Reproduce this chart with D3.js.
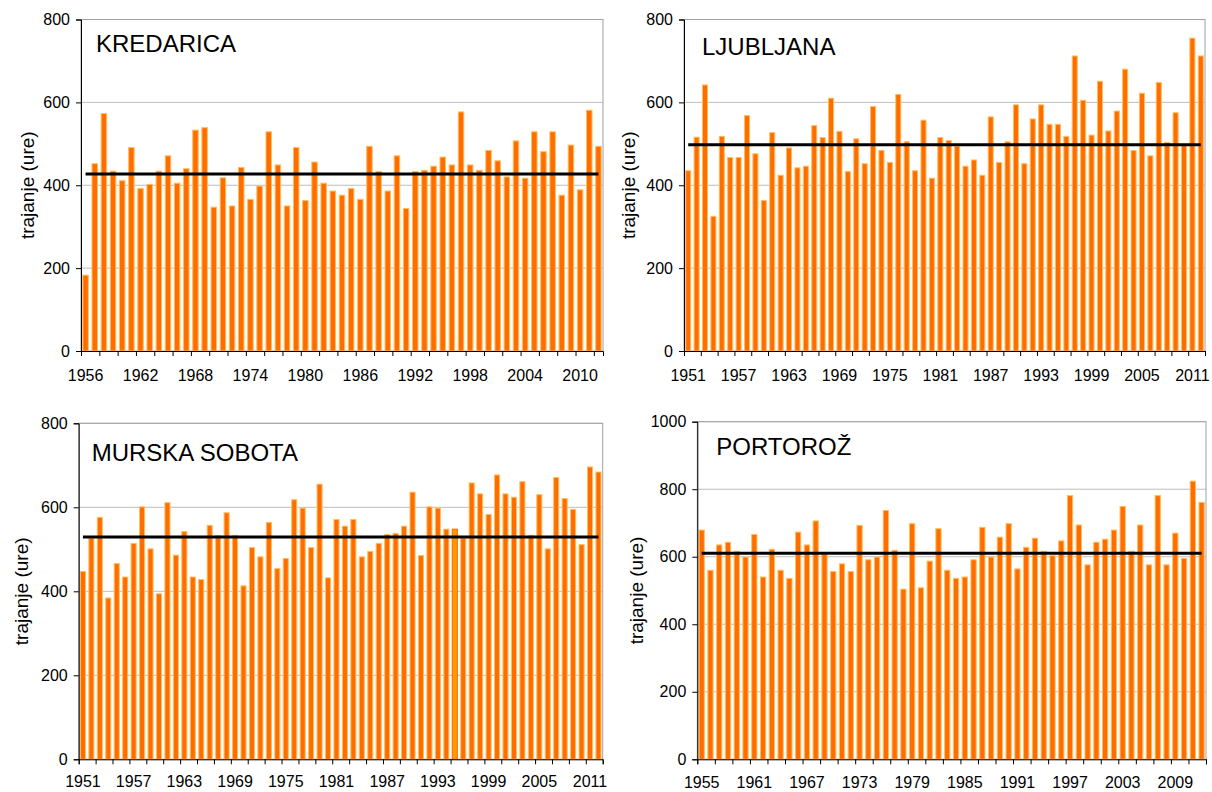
<!DOCTYPE html>
<html>
<head>
<meta charset="utf-8">
<script src="https://cdn.jsdelivr.net/npm/d3@7"></script>
<style>
  html, body { margin: 0; padding: 0; background: #ffffff; }
  svg { display: block; }
  text { font-family: "Liberation Sans", Arial, sans-serif; fill: #000; }
</style>
</head>
<body>
<svg id="chart" width="1212" height="792"></svg>
<script>
// ---------------- DATA ----------------
const stationNames = ["KREDARICA", "LJUBLJANA", "MURSKA SOBOTA", "PORTOROŽ"];
const startYears = [1956, 1951, 1951, 1955];
const endYears = [2012, 2012, 2012, 2012];
const yMaxValues = [800, 800, 800, 1000];
const meanValues = [427, 498, 529, 610];
const highlightYears = [null, null, 1995, null];
const axisTitle = "trajanje (ure)";

const kredaricaValues = [
  183, 452, 573, 434, 411, 491, 392, 402, 434, 471,
  405, 440, 533, 539, 347, 418, 350, 443, 366, 398,
  529, 449, 350, 491, 363, 456, 405, 386, 376, 392,
  366, 494, 433, 386, 471, 344, 433, 436, 446, 468,
  449, 577, 449, 436, 484, 459, 420, 507, 417, 529,
  481, 529, 376, 497, 389, 581, 494
];
const ljubljanaValues = [
  435, 516, 642, 325, 518, 467, 467, 568, 476, 363,
  527, 424, 490, 442, 446, 544, 515, 610, 530, 433,
  512, 452, 590, 484, 455, 619, 505, 435, 557, 417,
  515, 508, 494, 446, 461, 424, 565, 455, 505, 594,
  452, 560, 594, 547, 547, 518, 712, 605, 521, 651,
  531, 579, 680, 484, 622, 471, 648, 503, 575, 497,
  755, 712
];
const murskaSobotaValues = [
  447, 526, 576, 384, 466, 434, 514, 601, 501, 394,
  611, 486, 542, 434, 428, 557, 533, 587, 533, 413,
  504, 482, 564, 454, 478, 618, 598, 504, 655, 432,
  571, 555, 571, 482, 495, 514, 535, 538, 555, 636,
  485, 601, 598, 548, 548, 526, 658, 632, 583, 677,
  632, 624, 661, 533, 630, 501, 671, 621, 595, 511,
  696, 684
];
const portorozValues = [
  679, 560, 635, 643, 616, 599, 666, 540, 622, 560,
  536, 673, 635, 706, 607, 556, 579, 556, 693, 591,
  599, 737, 619, 504, 698, 508, 587, 683, 560, 536,
  540, 591, 687, 599, 658, 698, 564, 628, 655, 616,
  603, 647, 781, 694, 576, 643, 652, 679, 749, 616,
  694, 576, 781, 576, 670, 595, 824, 761
];
const seriesValues = [kredaricaValues, ljubljanaValues, murskaSobotaValues, portorozValues];

// ---------------- LAYOUT ----------------
const panels = [
  { x0: 81,    x1: 603,  y0: 19.5,  y1: 351,   tdx: 15, tdy: 32, atx: 54, lpad: 19 },
  { x0: 684,   x1: 1205, y0: 19.5,  y1: 351,   tdx: 18, tdy: 35, atx: 56, lpad: 19 },
  { x0: 78.7,  x1: 602.7,y0: 423.3, y1: 759.3, tdx: 13, tdy: 38, atx: 57, lpad: 16 },
  { x0: 697.3, x1: 1206, y0: 421.7, y1: 759.3, tdx: 19, tdy: 33, atx: 61, lpad: 17 }
];

const svg = d3.select("#chart");

panels.forEach((p, k) => {
  const values = seriesValues[k];
  const years = d3.range(startYears[k], endYears[k] + 1);
  const n = years.length;
  const g = svg.append("g");

  const x = d3.scaleBand().domain(years).range([p.x0, p.x1])
    .paddingInner(0.4).paddingOuter(0.2);
  const xi = d3.scaleLinear().domain([0, n]).range([p.x0, p.x1]);
  const y = d3.scaleLinear().domain([0, yMaxValues[k]]).range([p.y1, p.y0]);
  const yTicks = d3.range(0, yMaxValues[k] + 1, 200);

  // gridlines
  g.append("g").selectAll("line").data(yTicks.filter(t => t > 0)).join("line")
    .attr("x1", p.x0).attr("x2", p.x1)
    .attr("y1", d => y(d)).attr("y2", d => y(d))
    .attr("stroke", "#BDBDBD").attr("stroke-width", 1);

  // plot border (top & right grey)
  g.append("rect")
    .attr("x", p.x0).attr("y", p.y0)
    .attr("width", p.x1 - p.x0).attr("height", p.y1 - p.y0)
    .attr("fill", "none").attr("stroke", "#A0A0A0").attr("stroke-width", 1);

  // bars
  const data = years.map((yr, i) => ({ yr, v: values[i] }));
  g.append("g").selectAll("rect").data(data).join("rect")
    .attr("x", d => x(d.yr))
    .attr("width", x.bandwidth())
    .attr("y", d => y(d.v))
    .attr("height", d => y(0) - y(d.v))
    .attr("fill", d => d.yr === highlightYears[k] ? "#FF9A00" : "#FF6D00")
    .attr("stroke", d => d.yr === highlightYears[k] ? "#FF6600" : "#FFBE5C")
    .attr("stroke-width", 1);

  // mean line
  const line = d3.line().x(d => x(d) + x.bandwidth() / 2).y(() => y(meanValues[k]));
  g.append("path")
    .datum([years[0], years[n - 1]])
    .attr("d", line)
    .attr("stroke", "#000").attr("stroke-width", 3).attr("fill", "none");

  // y axis
  const yAxis = g.append("g")
    .attr("transform", `translate(${p.x0},0)`)
    .call(d3.axisLeft(y).tickValues(yTicks).tickSize(5).tickPadding(6).tickFormat(d3.format("d")));
  yAxis.select(".domain").attr("stroke", "#000");
  yAxis.selectAll(".tick line").attr("stroke", "#000");
  yAxis.selectAll("text").attr("font-size", 16).attr("font-family", "Liberation Sans, Arial, sans-serif");

  // x axis (tick marks every 2 categories)
  const xAxis = g.append("g")
    .attr("transform", `translate(0,${p.y1})`)
    .call(d3.axisBottom(xi).tickValues(d3.range(0, n + 1, 2)).tickSize(5).tickFormat(""));
  xAxis.select(".domain").attr("stroke", "#000");
  xAxis.selectAll(".tick line").attr("stroke", "#000");

  // x labels every 6 years
  const labelYears = years.filter((yr, i) => i % 6 === 0);
  const xLab = g.append("g")
    .attr("transform", `translate(0,${p.y1})`)
    .call(d3.axisBottom(x).tickValues(labelYears).tickSize(0).tickPadding(p.lpad));
  xLab.select(".domain").remove();
  xLab.selectAll("text").attr("font-size", 16).attr("font-family", "Liberation Sans, Arial, sans-serif");

  // axis title
  g.append("text")
    .attr("transform", `translate(${p.x0 - p.atx},${(p.y0 + p.y1) / 2}) rotate(-90)`)
    .attr("text-anchor", "middle")
    .attr("dominant-baseline", "central")
    .attr("font-size", 19)
    .text(axisTitle);

  // station title
  g.append("text")
    .attr("x", p.x0 + p.tdx)
    .attr("y", p.y0 + p.tdy)
    .attr("font-size", 24)
    .text(stationNames[k]);
});
</script>
</body>
</html>
